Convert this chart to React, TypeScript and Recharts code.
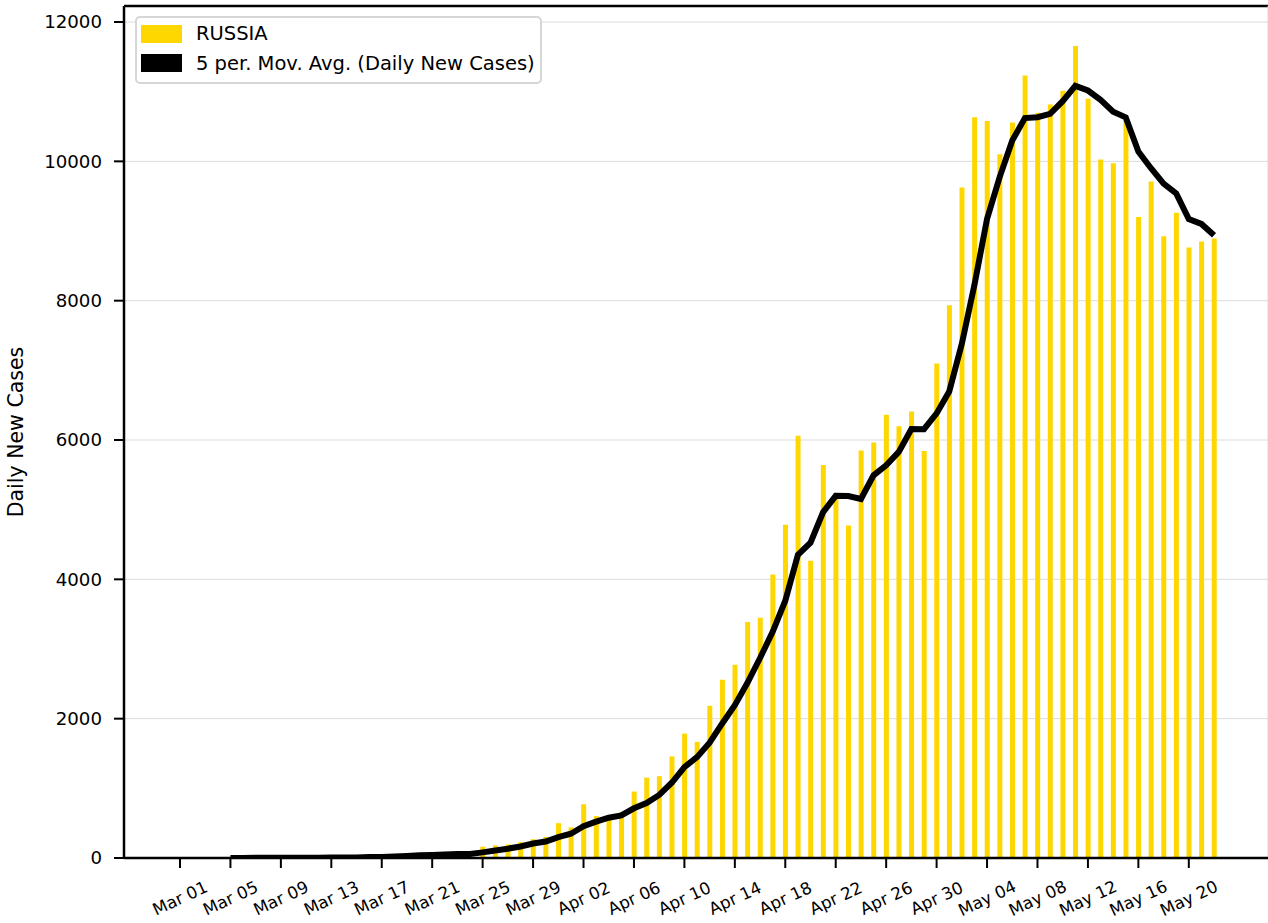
import React from "react";
import {
  ComposedChart, Bar, Line, XAxis, YAxis, CartesianGrid, Legend, ReferenceLine,
} from "recharts";

// daily new cases, one value per day starting Mar 01
const dailyCases = [
  0, 1, 0, 0, 1, 6, 3, 0, 4, 3, 8, 6, 11, 14, 4, 30, 21, 33, 52, 54, 53, 61, 71, 57,
  163, 182, 196, 228, 270, 302, 500, 440, 771, 601, 582, 658, 954, 1154, 1175, 1459,
  1786, 1667, 2186, 2558, 2774, 3388, 3448, 4070, 4785, 6060, 4268, 5642, 5236, 4774,
  5849, 5966, 6361, 6198, 6411, 5841, 7099, 7933, 9623, 10633, 10581, 10102, 10559,
  11231, 10699, 10817, 11012, 11656, 10899, 10028, 9974, 10598, 9200, 9709, 8926,
  9263, 8764, 8849, 8894,
];

// 5 period moving average, first value on Mar 05
const movingAvg = [
  null, null, null, null, 0.4, 1.6, 2, 2, 2.8, 3.2, 3.6, 4.2, 6.4, 8.4, 8.6, 13, 16,
  20.4, 28, 38, 42.6, 50.6, 58.2, 59.2, 81, 106.8, 133.8, 165.2, 207.8, 235.6, 299.2,
  348, 456.6, 522.8, 578.8, 610.4, 713.2, 789.8, 904.6, 1080, 1305.6, 1448.2, 1654.6,
  1931.2, 2194.2, 2514.6, 2870.8, 3247.6, 3693, 4350.2, 4526.2, 4965, 5198.2, 5196,
  5153.8, 5493.4, 5637.2, 5829.6, 6157, 6155.4, 6382, 6696.4, 7381.4, 8225.8, 9173.8,
  9774.4, 10299.6, 10621.2, 10634.4, 10681.6, 10863.6, 11083, 11016.6, 10882.4,
  10713.8, 10631, 10139.8, 9901.8, 9681.4, 9539.2, 9172.4, 9102.2, 8939.2,
];

const xTickLabels = [
  "Mar 01", "Mar 05", "Mar 09", "Mar 13", "Mar 17", "Mar 21", "Mar 25", "Mar 29",
  "Apr 02", "Apr 06", "Apr 10", "Apr 14", "Apr 18", "Apr 22", "Apr 26", "Apr 30",
  "May 04", "May 08", "May 12", "May 16", "May 20",
];
const yTicks = [0, 2000, 4000, 6000, 8000, 10000, 12000];

const barName = "RUSSIA";
const lineName = "5 per. Mov. Avg. (Daily New Cases)";
const yTitle = "Daily New Cases";

const FONT = "'DejaVu Sans', sans-serif";
const X_MIN = -4.44;
const X_MAX = 86.28;
const Y_MAX = 12230;

const data = dailyCases.map((v, i) => ({ day: i, cases: v, avg: movingAvg[i] }));
const xTicks = xTickLabels.map((_, i) => i * 4);

function DateTick(props: any) {
  const { x, y, payload } = props;
  const label = xTickLabels[Math.round(payload.value / 4)];
  return (
    <g transform={`translate(${x},${y + 28}) rotate(-25)`}>
      <text textAnchor="middle" dominantBaseline="central" fontSize={16.8} fontFamily={FONT} fill="#000">
        {label}
      </text>
    </g>
  );
}

function YTitle(props: any) {
  const vb = props.viewBox || {};
  const cy = (vb.y ?? 6) + (vb.height ?? 852) / 2;
  return (
    <text
      x={16}
      y={cy}
      transform={`rotate(-90, 16, ${cy})`}
      textAnchor="middle"
      dominantBaseline="central"
      fontSize={20.5}
      fontFamily={FONT}
      fill="#000"
    >
      {yTitle}
    </text>
  );
}

function LegendBox() {
  const items = [
    { name: barName, color: "#FFD700" },
    { name: lineName, color: "#000000" },
  ];
  return (
    <div
      style={{
        width: 407,
        height: 68,
        boxSizing: "border-box",
        border: "2px solid #d6d6d6",
        borderRadius: 5,
        background: "rgba(255,255,255,0.85)",
        padding: "1px 0 0 4px",
        fontFamily: FONT,
        fontSize: 19.5,
      }}
    >
      {items.map((it) => (
        <div key={it.name} style={{ display: "flex", alignItems: "center", height: 29.5 }}>
          <span style={{ width: 41, height: 18, background: it.color, display: "inline-block" }} />
          <span style={{ marginLeft: 14, color: "#000", whiteSpace: "nowrap" }}>{it.name}</span>
        </div>
      ))}
    </div>
  );
}

export default function App() {
  return (
    <div style={{ position: "absolute", left: 0, top: 0, width: 1268, height: 923, background: "#fff" }}>
      <ComposedChart width={1268} height={923} data={data} margin={{ top: 6, right: 0, bottom: 0, left: 0 }}>
        <CartesianGrid vertical={false} stroke="#dcdcdc" strokeWidth={1} />
        <XAxis
          dataKey="day"
          type="number"
          domain={[X_MIN, X_MAX]}
          allowDataOverflow
          ticks={xTicks}
          interval={0}
          height={65}
          tick={<DateTick />}
          tickSize={10}
          tickLine={{ stroke: "#000", strokeWidth: 2 }}
          axisLine={{ stroke: "#000", strokeWidth: 2.5 }}
        />
        <YAxis
          type="number"
          domain={[0, Y_MAX]}
          allowDataOverflow
          ticks={yTicks}
          interval={0}
          width={124}
          tickSize={10}
          tickMargin={12}
          tick={{ fill: "#000", fontSize: 18.2, fontFamily: FONT }}
          tickLine={{ stroke: "#000", strokeWidth: 2 }}
          axisLine={{ stroke: "#000", strokeWidth: 2.5 }}
          label={<YTitle />}
        />
        <ReferenceLine y={Y_MAX} stroke="#000" strokeWidth={2.5} />
        <ReferenceLine x={X_MAX} stroke="#d9d9d9" strokeWidth={1} />
        <Legend
          layout="horizontal"
          verticalAlign="middle"
          align="center"
          wrapperStyle={{ position: "absolute", left: 135, top: 16, width: 407, height: 68 }}
          content={() => <LegendBox />}
        />
        <Bar dataKey="cases" name={barName} fill="#FFD700" barSize={5} isAnimationActive={false} />
        <Line
          dataKey="avg"
          name={lineName}
          type="linear"
          stroke="#000"
          strokeWidth={6}
          dot={false}
          activeDot={false}
          isAnimationActive={false}
        />
      </ComposedChart>
    </div>
  );
}
